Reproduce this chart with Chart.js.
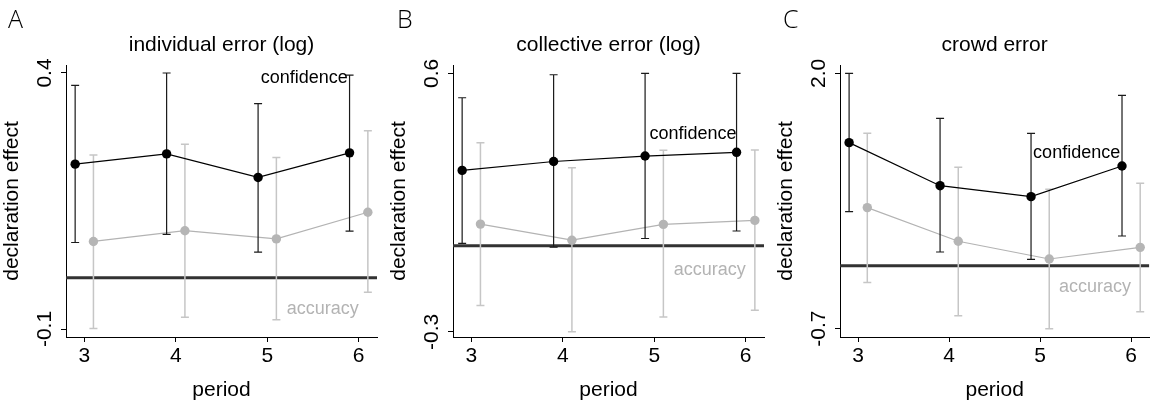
<!DOCTYPE html>
<html lang="en">
<head>
    <meta charset="UTF-8">
    <title>Declaration effect by period</title>
    <script src="https://cdn.jsdelivr.net/npm/chart.js"></script>
    <style>
        body {
            margin: 0;
            background: #fff;
        }
        #panels {
            position: relative;
            width: 1154px;
            height: 403px;
        }
        .panel {
            position: absolute;
            top: 0;
            height: 403px;
        }
    </style>
</head>
<body>
<div id="panels">
    <div class="panel" style="left:0;width:385px"><canvas id="chartA"></canvas></div>
    <div class="panel" style="left:387px;width:385px"><canvas id="chartB"></canvas></div>
    <div class="panel" style="left:774px;width:380px"><canvas id="chartC"></canvas></div>
</div>
<script>
    const periods = [3, 4, 5, 6];

    // individual error (log)
    const confIndiv = [0.222, 0.242, 0.196, 0.244];
    const confIndivLo = [0.069, 0.085, 0.050, 0.091];
    const confIndivHi = [0.376, 0.400, 0.340, 0.396];
    const accIndiv = [0.071, 0.092, 0.076, 0.128];
    const accIndivLo = [-0.099, -0.077, -0.082, -0.028];
    const accIndivHi = [0.240, 0.261, 0.235, 0.287];

    // collective error (log)
    const confColl = [0.262, 0.293, 0.312, 0.325];
    const confCollLo = [0.008, -0.005, 0.025, 0.051];
    const confCollHi = [0.515, 0.595, 0.600, 0.600];
    const accColl = [0.075, 0.019, 0.074, 0.088];
    const accCollLo = [-0.208, -0.300, -0.248, -0.225];
    const accCollHi = [0.358, 0.271, 0.332, 0.333];

    // crowd error
    const confCrowd = [1.267, 0.812, 0.696, 1.020];
    const confCrowdLo = [0.537, 0.111, 0.033, 0.280];
    const confCrowdHi = [2.000, 1.524, 1.366, 1.767];
    const accCrowd = [0.580, 0.224, 0.037, 0.160];
    const accCrowdLo = [-0.213, -0.562, -0.700, -0.520];
    const accCrowdHi = [1.366, 1.006, 0.773, 0.837];

    const panelLetters = ['A', 'B', 'C'];
    const panelTitles = ['individual error (log)', 'collective error (log)', 'crowd error'];
    const yTickValues = [[-0.1, 0.4], [-0.3, 0.6], [-0.7, 2.0]];
    const refLineValues = [0, 0, -0.035];

    const FONT = "'Liberation Sans', Arial, Helvetica, sans-serif";
    Chart.defaults.font.family = FONT;
    Chart.defaults.color = '#000';

    // vertical whiskers with caps, drawn just before their own dataset
    const errorBars = {
        id: 'errorBars',
        beforeDatasetDraw(chart, args) {
            const ds = chart.data.datasets[args.index];
            if (!ds.errLo) return;
            const {ctx, scales: {x, y}} = chart;
            ctx.save();
            ctx.strokeStyle = ds.errColor;
            ctx.lineWidth = ds.errWidth;
            ds.data.forEach((pt, i) => {
                const px = x.getPixelForValue(pt.x);
                const lo = y.getPixelForValue(ds.errLo[i]);
                const hi = y.getPixelForValue(ds.errHi[i]);
                ctx.beginPath();
                ctx.moveTo(px, lo);
                ctx.lineTo(px, hi);
                ctx.moveTo(px - 4, lo);
                ctx.lineTo(px + 4, lo);
                ctx.moveTo(px - 4, hi);
                ctx.lineTo(px + 4, hi);
                ctx.stroke();
            });
            ctx.restore();
        }
    };

    // panel letter, title, rotated y tick labels and the series labels
    const panelText = {
        id: 'panelText',
        afterDraw(chart, args, opts) {
            const {ctx, chartArea, scales: {x, y}} = chart;
            ctx.save();
            ctx.font = '300 25px "Open Sans", "DejaVu Sans", sans-serif';
            ctx.fillStyle = '#000';
            ctx.textBaseline = 'top';
            ctx.textAlign = 'left';
            ctx.fillText(opts.letter, opts.letterX, 8);

            ctx.font = '21px ' + FONT;
            ctx.textAlign = 'center';
            ctx.textBaseline = 'middle';
            ctx.fillText(opts.title, (chartArea.left + chartArea.right) / 2, 45);

            opts.yTicks.forEach(v => {
                ctx.save();
                ctx.translate(chartArea.left - 21, y.getPixelForValue(v));
                ctx.rotate(-Math.PI / 2);
                ctx.fillText(v.toFixed(1), 0, 0);
                ctx.restore();
            });

            ctx.font = '18px ' + FONT;
            ctx.textAlign = 'right';
            ctx.fillText('confidence', x.getPixelForValue(opts.confAt[0]), y.getPixelForValue(opts.confAt[1]));
            ctx.fillStyle = '#b3b3b3';
            ctx.fillText('accuracy', x.getPixelForValue(opts.accAt[0]), y.getPixelForValue(opts.accAt[1]));
            ctx.restore();
        }
    };

    function makePanel(id, k, conf, confLo, confHi, acc, accLo, accHi, cfg) {
        const ticksY = yTickValues[k];
        new Chart(document.getElementById(id), {
            type: 'line',
            data: {
                datasets: [
                    {
                        label: 'confidence',
                        data: periods.map((p, i) => ({x: p - 0.1, y: conf[i]})),
                        errLo: confLo,
                        errHi: confHi,
                        errColor: '#1a1a1a',
                        errWidth: 1.2,
                        borderColor: '#000',
                        borderWidth: 1.2,
                        pointRadius: 4.7,
                        pointBackgroundColor: '#000',
                        pointBorderWidth: 0,
                        tension: 0
                    },
                    {
                        label: 'accuracy',
                        data: periods.map((p, i) => ({x: p + 0.1, y: acc[i]})),
                        errLo: accLo,
                        errHi: accHi,
                        errColor: '#c6c6c6',
                        errWidth: 1.5,
                        borderColor: '#b3b3b3',
                        borderWidth: 1.2,
                        pointRadius: 4.7,
                        pointBackgroundColor: '#b5b5b5',
                        pointBorderWidth: 0,
                        tension: 0
                    },
                    {
                        label: 'zero',
                        data: [{x: 2.8, y: refLineValues[k]}, {x: 6.2, y: refLineValues[k]}],
                        borderColor: '#333',
                        borderWidth: 3,
                        pointRadius: 0
                    }
                ]
            },
            options: {
                responsive: true,
                maintainAspectRatio: false,
                animation: false,
                layout: {padding: {left: 0, right: cfg.padRight, top: 65, bottom: 0}},
                plugins: {
                    legend: {display: false},
                    tooltip: {enabled: false},
                    title: {display: false},
                    panelText: {
                        letter: panelLetters[k],
                        title: panelTitles[k],
                        yTicks: ticksY,
                        letterX: cfg.letterX,
                        confAt: cfg.confAt,
                        accAt: cfg.accAt
                    }
                },
                scales: {
                    x: {
                        type: 'linear',
                        min: 2.8,
                        max: 6.2,
                        afterBuildTicks: s => { s.ticks = periods.map(v => ({value: v})); },
                        afterFit: s => { s.height = 66; },
                        grid: {drawOnChartArea: false, tickLength: 5, color: '#000', lineWidth: 1},
                        border: {display: true, color: '#000', width: 1},
                        ticks: {font: {size: 21}, padding: 2, maxRotation: 0, color: '#000'},
                        title: {display: true, text: 'period', font: {size: 21}, padding: {top: 0, bottom: 0}, color: '#000'}
                    },
                    y: {
                        type: 'linear',
                        min: cfg.yMin,
                        max: cfg.yMax,
                        afterBuildTicks: s => { s.ticks = ticksY.map(v => ({value: v})); },
                        afterFit: s => { s.width = 66; },
                        grid: {drawOnChartArea: false, tickLength: 5, color: '#000', lineWidth: 1},
                        border: {display: true, color: '#000', width: 1},
                        ticks: {display: false},
                        title: {display: true, text: 'declaration effect', font: {size: 21}, padding: {top: 0, bottom: 0}, color: '#000'}
                    }
                }
            },
            plugins: [errorBars, panelText]
        });
    }

    makePanel('chartA', 0, confIndiv, confIndivLo, confIndivHi, accIndiv, accIndivLo, accIndivHi,
        {yMin: -0.1156, yMax: 0.4156, padRight: 8, letterX: 8, confAt: [5.88, 0.39], accAt: [6.0, -0.061]});
    makePanel('chartB', 1, confColl, confCollLo, confCollHi, accColl, accCollLo, accCollHi,
        {yMin: -0.318, yMax: 0.629, padRight: 8, letterX: 10, confAt: [5.9, 0.389], accAt: [6.0, -0.085]});
    makePanel('chartC', 2, confCrowd, confCrowdLo, confCrowdHi, accCrowd, accCrowdLo, accCrowdHi,
        {yMin: -0.788, yMax: 2.088, padRight: 2, letterX: 9, confAt: [5.88, 1.154], accAt: [6.0, -0.256]});
</script>
</body>
</html>
